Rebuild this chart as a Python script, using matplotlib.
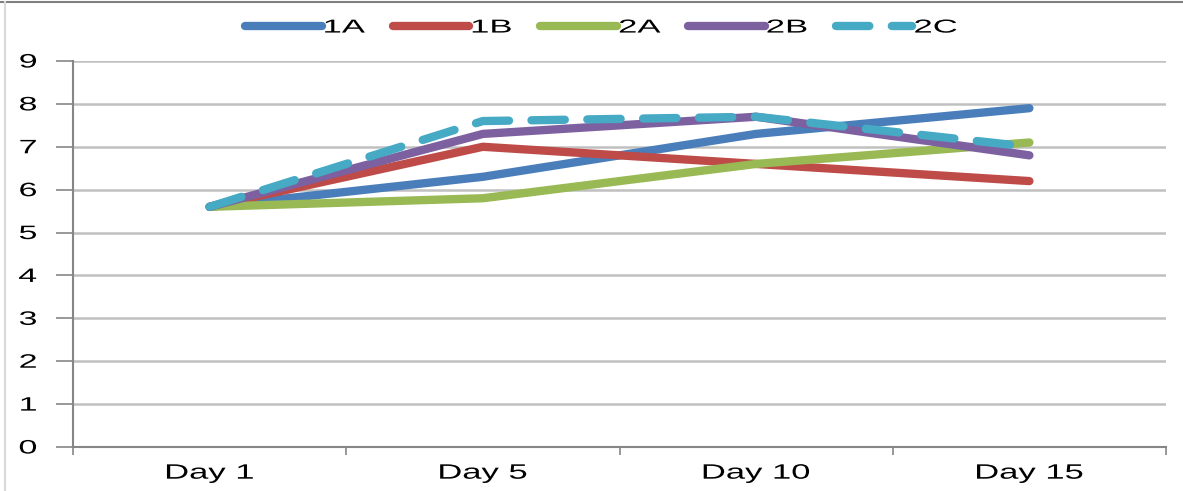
import matplotlib
matplotlib.use("Agg")
import matplotlib.pyplot as plt
from matplotlib.lines import Line2D
from matplotlib.patheffects import AbstractPathEffect
from matplotlib.transforms import Affine2D

plt.rcParams['font.family'] = ['Liberation Sans', 'DejaVu Sans']

categories = ["Day 1", "Day 5", "Day 10", "Day 15"]
series_names = ["1A", "1B", "2A", "2B", "2C"]
s_1a = [5.6, 6.3, 7.3, 7.9]
s_1b = [5.6, 7.0, 6.6, 6.2]
s_2a = [5.6, 5.8, 6.6, 7.1]
s_2b = [5.6, 7.3, 7.7, 6.8]
s_2c = [5.6, 7.6, 7.7, 7.0]
y_ticks = [0, 1, 2, 3, 4, 5, 6, 7, 8, 9]

colors = ["#4a7ebb", "#be4b48", "#98b954", "#7d60a0", "#46aac5"]
series = [s_1a, s_1b, s_2a, s_2b, s_2c]
dash_2c = (0, (4.0, 2.7))


class WideText(AbstractPathEffect):
    """Draw text glyphs widened horizontally about a fixed anchor."""

    def __init__(self, sx=1.7, anchor="center"):
        super().__init__()
        self.sx = sx
        self.anchor = anchor

    def draw_path(self, renderer, gc, tpath, affine, rgbFace=None):
        ext = tpath.get_extents(affine)
        if self.anchor == "center":
            x0 = 0.5 * (ext.x0 + ext.x1)
        elif self.anchor == "right":
            x0 = ext.x1
        else:
            x0 = ext.x0
        wide = affine + Affine2D().translate(-x0, 0).scale(self.sx, 1).translate(x0, 0)
        renderer.draw_path(gc, tpath, wide, rgbFace)


fig = plt.figure(figsize=(11.83, 4.91), dpi=100)
ax = fig.add_axes([73 / 1183, 1 - 447 / 491, (1166 - 73) / 1183, (447 - 61) / 491])

x = list(range(len(categories)))
for name, vals, col in zip(series_names, series, colors):
    if name == "2C":
        ax.plot(x, vals, color=col, lw=6, linestyle=dash_2c,
                dash_capstyle='round', dash_joinstyle='round', zorder=5)
    else:
        ax.plot(x, vals, color=col, lw=6, solid_capstyle='round',
                solid_joinstyle='round', zorder=4)

ax.set_xlim(-0.5, len(categories) - 0.5)
ax.set_ylim(0, 9)
ax.set_yticks(y_ticks)
ax.set_yticklabels([str(v) for v in y_ticks], fontsize=14)
ax.set_xticks(x)
ax.set_xticklabels(categories, fontsize=15)
ax.set_xticks([i - 0.5 for i in range(len(categories) + 1)], minor=True)
ax.tick_params(axis='x', which='major', length=0, pad=12)
ax.tick_params(axis='x', which='minor', length=6, color="#868686", width=1.2)
ax.tick_params(axis='y', length=12, color="#868686", width=1.2, pad=14)

for lbl in ax.get_xticklabels():
    lbl.set_path_effects([WideText(1.66, "center")])
for lbl in ax.get_yticklabels():
    lbl.set_path_effects([WideText(1.75, "right")])

ax.grid(axis='y', color="#c0c0c0", lw=1.8)
ax.set_axisbelow(True)
for s in ['top', 'right']:
    ax.spines[s].set_visible(False)
for s in ['left', 'bottom']:
    ax.spines[s].set_color("#868686")
    ax.spines[s].set_linewidth(1.5)

handles = []
for name, col in zip(series_names, colors):
    if name == "2C":
        handles.append(Line2D([], [], color=col, lw=6, linestyle=dash_2c,
                              dash_capstyle='round'))
    else:
        handles.append(Line2D([], [], color=col, lw=6, solid_capstyle='round'))
leg = fig.legend(handles, series_names, loc='center left',
                 bbox_to_anchor=(245 / 1183, 1 - 28 / 491), borderaxespad=0,
                 borderpad=0, ncol=5, frameon=False, fontsize=13.5,
                 handlelength=4.1, handletextpad=0.1, columnspacing=2.45)
for t in leg.get_texts():
    t.set_path_effects([WideText(1.85, "left")])

# outer chart frame
fig.add_artist(Line2D([0, 1], [1 - 2 / 491, 1 - 2 / 491], transform=fig.transFigure,
                      color="#808080", lw=1.5))
fig.add_artist(Line2D([5 / 1183, 5 / 1183], [0, 1 - 2 / 491], transform=fig.transFigure,
                      color="#d9d9d9", lw=1.5))

fig.savefig("out.png", dpi=100)
